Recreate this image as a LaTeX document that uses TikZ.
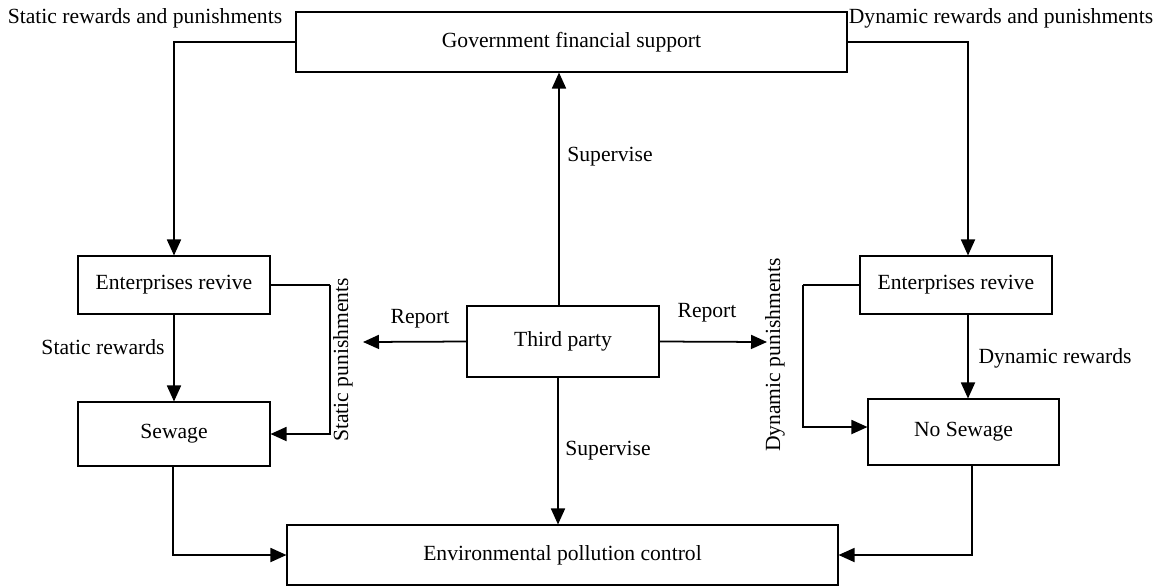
\documentclass[tikz,border=0pt]{standalone}
\usepackage{fontspec}
\setmainfont{Liberation Serif}
\usetikzlibrary{arrows.meta,calc}
\begin{document}
\begin{tikzpicture}[x=0.02cm,y=-0.02cm,
  font=\fontsize{12.3}{14}\selectfont,
  box/.style={draw,line width=0.6pt,inner sep=0pt,anchor=center},
  arr/.style={line width=1pt,-{Triangle[length=3.2mm,width=2.8mm]}},
  ln/.style={line width=0.6pt},
  lbl/.style={inner sep=0pt,anchor=center}]
\useasboundingbox (0,0) rectangle (1165,586);
% boxes
\node[box,minimum width=551*0.02cm,minimum height=60*0.02cm] (gov) at (571.5,42) {Government financial support};
\node[box,minimum width=192*0.02cm,minimum height=58*0.02cm] (erL) at (174,285) {Enterprises revive};
\node[box,minimum width=192*0.02cm,minimum height=64*0.02cm] (sew) at (174,434) {Sewage};
\node[box,minimum width=192*0.02cm,minimum height=71*0.02cm] (tp) at (563,341.5) {Third party};
\node[box,minimum width=192*0.02cm,minimum height=58*0.02cm] (erR) at (956,285) {Enterprises revive};
\node[box,minimum width=191*0.02cm,minimum height=66*0.02cm] (nos) at (963.5,432) {No Sewage};
\node[box,minimum width=551*0.02cm,minimum height=60*0.02cm] (env) at (562.5,555) {Environmental pollution control};
% free ends and corners
\coordinate (repL) at (363,342);
\coordinate (repR) at (767,342);
\coordinate (spC) at (330,285);
\coordinate (dpC) at (803,285);
% connectors
\draw[arr] (gov.west) -| (erL.north);
\draw[arr] (gov.east) -| ([xshift=0.24cm]erR.north);
\draw[arr] ([xshift=-0.08cm]tp.north) -- ([xshift=-0.08cm]tp.north |- gov.south);
\draw[arr] ([xshift=-0.1cm]tp.south) -- ([xshift=-0.1cm]tp.south |- env.north);
\draw[arr] (tp.west) -- (repL);
\draw[arr] (tp.east) -- (repR);
\draw[arr] (erL.south) -- (sew.north);
\draw[ln] (erL.east) -- (spC);
\draw[arr] (spC) |- (sew.east);
\draw[ln] (erR.west) -- (dpC);
\draw[arr] (dpC) |- ([yshift=0.1cm]nos.west);
\draw[arr] ([xshift=0.24cm]erR.south) -- ([xshift=0.24cm]erR.south |- nos.north);
\draw[arr] ([xshift=-0.02cm]sew.south) |- (env.west);
\draw[arr] ([xshift=0.17cm]nos.south) |- (env.east);
% labels
\node[lbl] (l1) at (145,18) {Static rewards and punishments};
\node[lbl] (l2) at (1001,18) {Dynamic rewards and punishments};
\node[lbl] (l3) at (610,157) {Supervise};
\node[lbl] (l4) at (608,451) {Supervise};
\node[lbl] (l5) at (420,319) {Report};
\node[lbl] (l6) at (707,313) {Report};
\node[lbl] (l7) at (103,347) {Static rewards};
\node[lbl] (l8) at (1055,358) {Dynamic rewards};
\node[lbl,rotate=90] (l9) at (343,360) {Static punishments};
\node[lbl,rotate=90] (l10) at (775,355) {Dynamic punishments};
\end{tikzpicture}
\end{document}
